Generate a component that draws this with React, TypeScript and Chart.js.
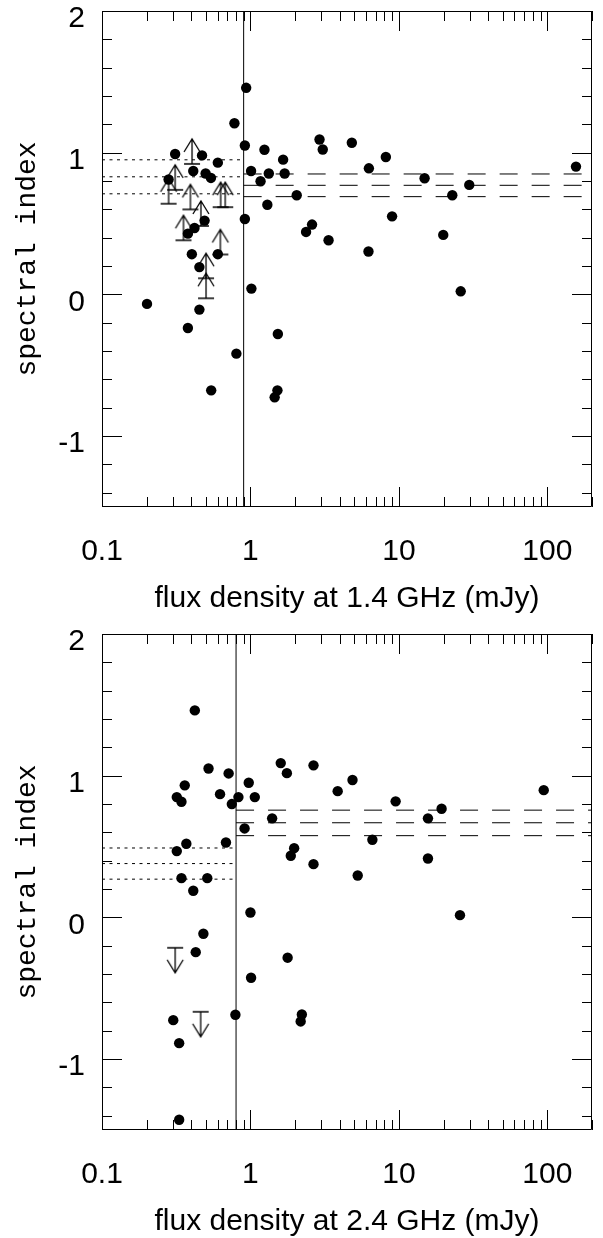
import React, { useEffect, useRef } from 'react';
import { Chart, registerables } from 'chart.js';

Chart.register(...registerables);

// ---- axes ----
const xMin = 0.1;
const xMax = 200;
const yMin = -1.5;
const yMax = 2;
const xTickValues = [0.1, 1, 10, 100];
const xTickLabels = ['0.1', '1', '10', '100'];
const yTickValues = [2, 1, 0, -1];
const yTickLabels = ['2', '1', '0', '-1'];
const yTitle = 'spectral index';
const xTitle14 = 'flux density at 1.4 GHz (mJy)';
const xTitle24 = 'flux density at 2.4 GHz (mJy)';

// ---- top panel: 1.4 GHz ----
const flux14 = [
  0.936, 0.78, 0.917, 1.243, 2.92, 3.07, 0.311, 0.472, 0.603, 1.66,
  0.412, 0.499, 0.542, 1.01, 1.33, 1.70, 1.17, 0.281, 2.05, 1.30,
  0.917, 0.491, 0.42, 0.379, 2.60, 2.37, 3.36, 0.403, 0.603, 0.453,
  1.015, 0.201, 0.453, 0.379, 1.53, 0.804, 0.544, 1.52, 1.456, 4.82,
  6.28, 8.17, 14.9, 22.9, 29.8, 9.0, 19.9, 6.24, 26.1, 156,
];
const alpha14 = [
  1.458, 1.208, 1.051, 1.021, 1.093, 1.023, 0.991, 0.981, 0.930, 0.951,
  0.871, 0.853, 0.822, 0.871, 0.853, 0.853, 0.799, 0.811, 0.700, 0.633,
  0.532, 0.521, 0.469, 0.429, 0.493, 0.441, 0.382, 0.284, 0.284, 0.193,
  0.041, -0.067, -0.107, -0.237, -0.279, -0.418, -0.677, -0.677, -0.726, 1.070,
  0.890, 0.970, 0.820, 0.700, 0.773, 0.551, 0.420, 0.303, 0.022, 0.902,
];
// lower limits (arrows pointing up)
const limitFlux14 = [0.404, 0.311, 0.281, 0.394, 0.464, 0.354, 0.63, 0.676, 0.627, 0.502, 0.502];
const limitAlpha14 = [0.921, 0.738, 0.64, 0.60, 0.483, 0.382, 0.616, 0.616, 0.282, -0.027, 0.114];
const split14 = 0.9;
const faintLevels14 = [0.95, 0.83, 0.71];
const brightLevels14 = [0.85, 0.77, 0.69];

// ---- bottom panel: 2.4 GHz ----
const flux24 = [
  0.422, 0.522, 0.713, 1.60, 1.76, 2.66, 0.361, 0.974, 0.319, 0.343,
  0.624, 0.83, 1.07, 0.749, 3.87, 1.40, 0.913, 0.37, 0.684, 0.319,
  1.97, 1.87, 2.66, 0.343, 0.512, 0.412, 1.0, 0.482, 0.428, 1.78,
  1.01, 0.792, 2.22, 2.18, 0.302, 0.331, 0.331, 4.87, 5.28, 6.63,
  9.51, 15.7, 19.4, 15.7, 25.8, 94.6,
];
const alpha24 = [
  1.461, 1.051, 1.016, 1.089, 1.018, 1.073, 0.932, 0.950, 0.849, 0.816,
  0.870, 0.849, 0.849, 0.800, 0.891, 0.699, 0.628, 0.520, 0.529, 0.468,
  0.489, 0.435, 0.376, 0.277, 0.277, 0.188, 0.035, -0.115, -0.245, -0.284,
  -0.426, -0.687, -0.685, -0.734, -0.725, -0.887, -1.428, 0.970, 0.296, 0.548,
  0.819, 0.699, 0.767, 0.416, 0.016, 0.898,
];
// upper limits (arrows pointing down)
const limitFlux24 = [0.311, 0.462];
const limitAlpha24 = [-0.214, -0.666];
const split24 = 0.8;
const faintLevels24 = [0.49, 0.38, 0.27];
const brightLevels24 = [0.757, 0.668, 0.577];

// ---- rendering helpers ----
const CANVAS_W = 603;
const CANVAS_H = 623;
const PLOT_TOP = 10;
const PLOT_BOTTOM = 507;
const PLOT_LEFT = 102;
const PLOT_RIGHT = 600;

function makeArrow(up: boolean): HTMLCanvasElement {
  const c = document.createElement('canvas');
  c.width = 20;
  c.height = 62;
  const g = c.getContext('2d')!;
  g.strokeStyle = '#000';
  g.lineWidth = 1.3;
  const cy = 31;
  const dir = up ? -1 : 1;
  const tip = cy + dir * 25;
  g.beginPath();
  g.moveTo(2, cy);
  g.lineTo(18, cy);
  g.moveTo(10, cy);
  g.lineTo(10, tip);
  g.moveTo(2, tip - dir * 13);
  g.lineTo(10, tip);
  g.lineTo(18, tip - dir * 13);
  g.stroke();
  return c;
}

const framePlugin = {
  id: 'frame',
  afterDatasetsDraw(chart: any) {
    const { ctx, chartArea: a, scales } = chart;
    const x = scales.x;
    const y = scales.y;
    ctx.save();
    ctx.strokeStyle = '#000';
    ctx.lineWidth = 1;
    ctx.beginPath();
    ctx.rect(a.left + 0.5, a.top + 0.5, a.right - a.left - 1, a.bottom - a.top - 1);
    for (let k = -1; k <= 2; k++) {
      for (let m = 1; m <= 9; m++) {
        const v = m * Math.pow(10, k);
        if (v < x.min * 0.999 || v > x.max) continue;
        const px = Math.round(x.getPixelForValue(v)) + 0.5;
        const len = m === 1 ? 20 : 10;
        ctx.moveTo(px, a.bottom);
        ctx.lineTo(px, a.bottom - len);
        ctx.moveTo(px, a.top);
        ctx.lineTo(px, a.top + len);
      }
    }
    for (let i = -14; i <= 20; i += 2) {
      const v = i / 10;
      const py = Math.round(y.getPixelForValue(v)) + 0.5;
      const len = i % 10 === 0 ? 20 : 10;
      ctx.moveTo(a.left, py);
      ctx.lineTo(a.left + len, py);
      ctx.moveTo(a.right, py);
      ctx.lineTo(a.right - len, py);
    }
    ctx.stroke();
    ctx.restore();
  },
};

interface PanelSpec {
  flux: number[];
  alpha: number[];
  limitFlux: number[];
  limitAlpha: number[];
  limitUp: boolean;
  split: number;
  faint: number[];
  bright: number[];
  xTitle: string;
}

function buildConfig(p: PanelSpec): any {
  const arrow = makeArrow(p.limitUp);
  const datasets: any[] = [];
  datasets.push({
    data: [{ x: p.split, y: yMin }, { x: p.split, y: yMax }],
    showLine: true,
    borderColor: '#000',
    borderWidth: 1,
    pointRadius: 0,
  });
  p.faint.forEach((lvl) => {
    datasets.push({
      data: [{ x: xMin, y: lvl }, { x: p.split, y: lvl }],
      showLine: true,
      borderColor: '#000',
      borderWidth: 1,
      borderDash: [3, 4.5],
      pointRadius: 0,
    });
  });
  p.bright.forEach((lvl) => {
    datasets.push({
      data: [{ x: p.split, y: lvl }, { x: xMax, y: lvl }],
      showLine: true,
      borderColor: '#000',
      borderWidth: 1,
      borderDash: [18, 14],
      pointRadius: 0,
    });
  });
  datasets.push({
    data: p.limitFlux.map((f, i) => ({ x: f, y: p.limitAlpha[i] })),
    pointStyle: arrow,
    pointRadius: 10,
  });
  datasets.push({
    data: p.flux.map((f, i) => ({ x: f, y: p.alpha[i] })),
    pointStyle: 'circle',
    pointRadius: 5.2,
    pointBackgroundColor: '#000',
    pointBorderWidth: 0,
    borderColor: '#000',
  });

  return {
    type: 'scatter',
    data: { datasets },
    options: {
      animation: false,
      responsive: false,
      devicePixelRatio: 1,
      layout: { padding: { top: PLOT_TOP, right: CANVAS_W - PLOT_RIGHT, left: 0, bottom: 0 } },
      plugins: { legend: { display: false }, tooltip: { enabled: false } },
      events: [],
      scales: {
        x: {
          type: 'logarithmic',
          position: 'bottom',
          min: xMin,
          max: xMax,
          grid: { display: false, drawTicks: false },
          border: { display: false },
          afterBuildTicks: (s: any) => {
            s.ticks = xTickValues.map((v) => ({ value: v }));
          },
          afterFit: (s: any) => {
            s.height = CANVAS_H - PLOT_BOTTOM;
            s.paddingLeft = 0;
            s.paddingRight = 0;
          },
          ticks: {
            autoSkip: false,
            maxRotation: 0,
            minRotation: 0,
            padding: 27,
            color: '#000',
            font: { family: 'Liberation Sans', size: 30 },
            callback: (v: any) => {
              const i = xTickValues.indexOf(Number(v));
              return i >= 0 ? xTickLabels[i] : '';
            },
          },
          title: {
            display: true,
            text: p.xTitle,
            color: '#000',
            font: { family: 'Liberation Sans', size: 30 },
            padding: { top: 0, bottom: 6 },
          },
        },
        y: {
          type: 'linear',
          position: 'left',
          min: yMin,
          max: yMax,
          grid: { display: false, drawTicks: false },
          border: { display: false },
          afterBuildTicks: (s: any) => {
            s.ticks = yTickValues.map((v) => ({ value: v }));
          },
          afterFit: (s: any) => {
            s.width = PLOT_LEFT;
            s.paddingTop = 0;
            s.paddingBottom = 0;
          },
          ticks: {
            autoSkip: false,
            padding: 17,
            labelOffset: 8,
            color: '#000',
            font: { family: 'Liberation Sans', size: 30 },
            callback: (v: any) => {
              const i = yTickValues.indexOf(Number(v));
              return i >= 0 ? yTickLabels[i] : '';
            },
          },
          title: {
            display: true,
            text: yTitle,
            color: '#000',
            font: { family: 'Liberation Mono', size: 28 },
            padding: { top: 11, bottom: 0 },
          },
        },
      },
    },
    plugins: [framePlugin],
  };
}

function Panel({ spec, top }: { spec: PanelSpec; top: number }) {
  const ref = useRef<HTMLCanvasElement>(null);
  useEffect(() => {
    const chart = new Chart(ref.current as HTMLCanvasElement, buildConfig(spec));
    return () => chart.destroy();
  }, [spec]);
  return (
    <canvas
      ref={ref}
      width={CANVAS_W}
      height={CANVAS_H}
      style={{ position: 'absolute', left: 0, top, width: CANVAS_W, height: CANVAS_H, display: 'block' }}
    />
  );
}

const topSpec: PanelSpec = {
  flux: flux14,
  alpha: alpha14,
  limitFlux: limitFlux14,
  limitAlpha: limitAlpha14,
  limitUp: true,
  split: split14,
  faint: faintLevels14,
  bright: brightLevels14,
  xTitle: xTitle14,
};

const bottomSpec: PanelSpec = {
  flux: flux24,
  alpha: alpha24,
  limitFlux: limitFlux24,
  limitAlpha: limitAlpha24,
  limitUp: false,
  split: split24,
  faint: faintLevels24,
  bright: brightLevels24,
  xTitle: xTitle24,
};

export default function App() {
  return (
    <div
      style={{
        position: 'absolute',
        left: 0,
        top: 0,
        width: CANVAS_W,
        height: 1238,
        overflow: 'hidden',
        background: '#fff',
      }}
    >
      <Panel spec={topSpec} top={0} />
      <Panel spec={bottomSpec} top={623} />
    </div>
  );
}
